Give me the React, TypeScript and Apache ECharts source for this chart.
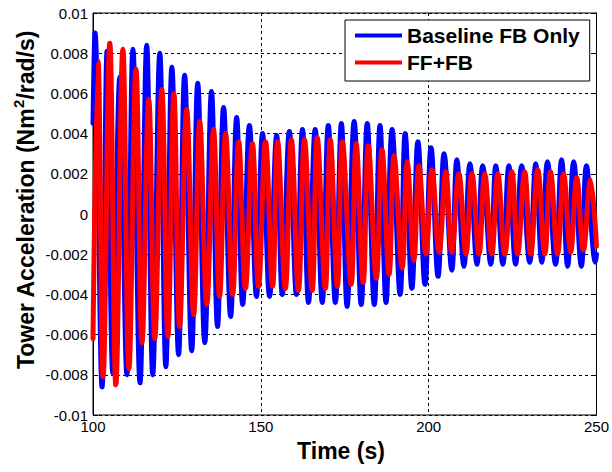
import React, { useEffect, useRef } from "react";
import * as echarts from "echarts";

const blueTime = [
  100.0, 100.6, 102.7, 104.2, 105.9, 108.0, 110.1, 111.9, 114.0, 116.0,
  117.8, 119.9, 121.7, 123.5, 125.5, 127.3, 129.4, 131.2, 133.3, 135.3,
  137.1, 138.9, 141.0, 142.8, 144.6, 146.6, 148.7, 150.5, 152.6, 154.7,
  156.4, 158.5, 160.6, 162.4, 164.2, 166.2, 168.3, 170.1, 172.2, 174.0,
  175.7, 177.8, 179.9, 181.7, 183.8, 185.5, 187.3, 189.1, 191.5, 193.0,
  195.0, 196.8, 198.9, 200.7, 202.8, 204.6, 206.9, 208.4, 210.5, 212.3,
  214.4, 216.1, 218.5, 220.0, 222.1, 223.9, 225.9, 227.7, 230.1, 231.9,
  233.7, 235.4, 237.8, 239.6, 241.4, 243.2, 245.5, 247.0, 249.7, 250.0,
];
const blueValue = [
  0.0045, 0.009, -0.0086, 0.0081, -0.0079, 0.0068, -0.008, 0.0082, -0.0084, 0.0084,
  -0.008, 0.008, -0.0076, 0.0073, -0.007, 0.0069, -0.0068, 0.0065, -0.0064, 0.0061,
  -0.0056, 0.0053, -0.0051, 0.0048, -0.0045, 0.0044, -0.0041, 0.004, -0.0041, 0.0039,
  -0.004, 0.0041, -0.004, 0.0042, -0.0044, 0.0042, -0.0044, 0.0044, -0.0044, 0.0045,
  -0.0046, 0.0046, -0.0045, 0.0045, -0.0045, 0.0044, -0.0044, 0.0042, -0.004, 0.004,
  -0.0037, 0.0036, -0.0035, 0.0033, -0.0031, 0.003, -0.0028, 0.0027, -0.0026, 0.0025,
  -0.0025, 0.0024, -0.0025, 0.0024, -0.0025, 0.0024, -0.0025, 0.0024, -0.0024, 0.0025,
  -0.0024, 0.0026, -0.0025, 0.0027, -0.0026, 0.0026, -0.0026, 0.0024, -0.0024, -0.002,
];

const redTime = [
  100.0, 101.5, 103.0, 105.0, 106.8, 108.9, 110.7, 112.8, 114.6, 116.6,
  118.4, 120.5, 122.3, 124.1, 125.8, 127.9, 130.0, 131.8, 133.9, 135.9,
  137.7, 139.5, 141.6, 143.4, 145.4, 147.5, 149.3, 151.4, 153.5, 155.0,
  157.3, 159.1, 161.2, 163.0, 165.3, 166.8, 169.2, 170.7, 172.8, 174.3,
  176.9, 178.4, 180.5, 182.0, 184.4, 186.1, 188.2, 189.7, 192.1, 193.6,
  195.6, 197.1, 199.2, 201.0, 203.1, 205.1, 206.9, 209.0, 211.1, 212.9,
  215.0, 216.7, 218.8, 220.6, 222.7, 224.8, 226.5, 228.6, 230.4, 232.5,
  234.6, 236.3, 238.4, 240.2, 242.3, 244.1, 246.1, 248.2, 250.0,
];
const redValue = [
  -0.0062, 0.0076, -0.0081, 0.0085, -0.0085, 0.0082, -0.0077, 0.0072, -0.0064, 0.0057,
  -0.0062, 0.0062, -0.0061, 0.006, -0.0056, 0.0052, -0.005, 0.0046, -0.0045, 0.0042,
  -0.0041, 0.004, -0.004, 0.0036, -0.0037, 0.0035, -0.0036, 0.0036, -0.0036, 0.0036,
  -0.0037, 0.0037, -0.0038, 0.0037, -0.0038, 0.0038, -0.0037, 0.0037, -0.0036, 0.0036,
  -0.0035, 0.0035, -0.0034, 0.0034, -0.0032, 0.0032, -0.003, 0.0029, -0.0027, 0.0026,
  -0.0023, 0.0024, -0.002, 0.0022, -0.0019, 0.0021, -0.0019, 0.002, -0.002, 0.002,
  -0.002, 0.002, -0.002, 0.002, -0.002, 0.0021, -0.002, 0.0021, -0.002, 0.0022,
  -0.002, 0.0021, -0.002, 0.002, -0.0019, 0.0018, -0.0018, 0.0017, -0.0016,
];

const seriesNames = ["Baseline FB Only", "FF+FB"];
const xTicks = [100, 150, 200, 250];
const yTickLabels = ["-0.01", "-0.008", "-0.006", "-0.004", "-0.002", "0", "0.002", "0.004", "0.006", "0.008", "0.01"];

const FONT = "'Liberation Sans', Arial, Helvetica, sans-serif";

function pairs(t: number[], v: number[]) {
  const n = Math.min(t.length, v.length);
  const out: number[][] = [];
  for (let i = 0; i < n; i++) out.push([t[i], v[i]]);
  return out;
}

export default function App() {
  const ref = useRef<HTMLDivElement>(null);
  useEffect(() => {
    if (!ref.current) return;
    const chart = echarts.init(ref.current, undefined, { renderer: "svg" });
    const yMin = -0.01;
    const yInt = 0.002;
    const fmtY = (v: number) => {
      const idx = Math.round((v - yMin) / yInt);
      return yTickLabels[idx] ?? String(v);
    };
    const gridLine = { show: true, lineStyle: { color: "#000", type: [3, 3] as any, width: 1 } };
    const tick = { show: true, inside: true, length: 5, lineStyle: { color: "#000" } };
    chart.setOption({
      animation: false,
      backgroundColor: "#fff",
      grid: { left: 93, right: 14, top: 13, bottom: 57, show: true, borderColor: "#000", borderWidth: 1, backgroundColor: "#fff" },
      legend: {
        data: seriesNames,
        orient: "vertical",
        left: 345,
        top: 20,
        icon: "rect",
        itemWidth: 47,
        itemHeight: 4,
        itemGap: 6,
        padding: [5, 10, 8, 10],
        borderColor: "#000",
        borderWidth: 1,
        backgroundColor: "#fff",
        textStyle: { fontSize: 21, fontWeight: "bold", color: "#000", fontFamily: FONT },
      },
      xAxis: [
        {
          type: "value",
          min: xTicks[0],
          max: xTicks[xTicks.length - 1],
          interval: 50,
          axisLine: { show: true, lineStyle: { color: "#000" } },
          axisTick: tick,
          axisLabel: { color: "#000", fontSize: 15, fontFamily: FONT, margin: 4 },
          splitLine: gridLine,
        },
        {
          type: "value",
          position: "top",
          min: xTicks[0],
          max: xTicks[xTicks.length - 1],
          interval: 50,
          axisLine: { show: true, lineStyle: { color: "#000" } },
          axisTick: tick,
          axisLabel: { show: false },
          splitLine: { show: false },
        },
      ],
      yAxis: [
        {
          type: "value",
          min: yMin,
          max: 0.01,
          interval: yInt,
          axisLine: { show: true, lineStyle: { color: "#000" } },
          axisTick: tick,
          axisLabel: { color: "#000", fontSize: 15, fontFamily: FONT, margin: 5, formatter: fmtY },
          splitLine: gridLine,
        },
        {
          type: "value",
          position: "right",
          min: yMin,
          max: 0.01,
          interval: yInt,
          axisLine: { show: true, lineStyle: { color: "#000" } },
          axisTick: tick,
          axisLabel: { show: false },
          splitLine: { show: false },
        },
      ],
      series: [
        {
          name: seriesNames[0],
          type: "line",
          data: pairs(blueTime, blueValue),
          showSymbol: false,
          smooth: 0.4,
          color: "#0000ff",
          lineStyle: { color: "#0000ff", width: 5, join: "round", cap: "round" },
          z: 2,
        },
        {
          name: seriesNames[1],
          type: "line",
          data: pairs(redTime, redValue),
          showSymbol: false,
          smooth: 0.4,
          color: "#ff0000",
          lineStyle: { color: "#ff0000", width: 5, join: "round", cap: "round" },
          z: 3,
        },
      ],
      graphic: [
        {
          type: "text",
          x: 24,
          y: 200,
          rotation: Math.PI / 2,
          style: {
            text: "{a|Tower Acceleration (Nm}{s|2}{a|/rad/s)}",
            align: "center",
            verticalAlign: "middle",
            fill: "#000",
            rich: {
              a: { fontSize: 23, fontWeight: "bold", fontFamily: FONT, fill: "#000", lineHeight: 26, verticalAlign: "bottom" },
              s: { fontSize: 15, fontWeight: "bold", fontFamily: FONT, fill: "#000", lineHeight: 14, verticalAlign: "top" },
            },
          },
        },
        {
          type: "text",
          x: 341,
          y: 451,
          style: {
            text: "Time (s)",
            align: "center",
            verticalAlign: "middle",
            fontSize: 23,
            fontWeight: "bold",
            fontFamily: FONT,
            fill: "#000",
          },
        },
      ],
    });
    return () => chart.dispose();
  }, []);
  return <div ref={ref} style={{ position: "fixed", left: 0, top: 0, width: 612, height: 472, background: "#fff" }} />;
}
